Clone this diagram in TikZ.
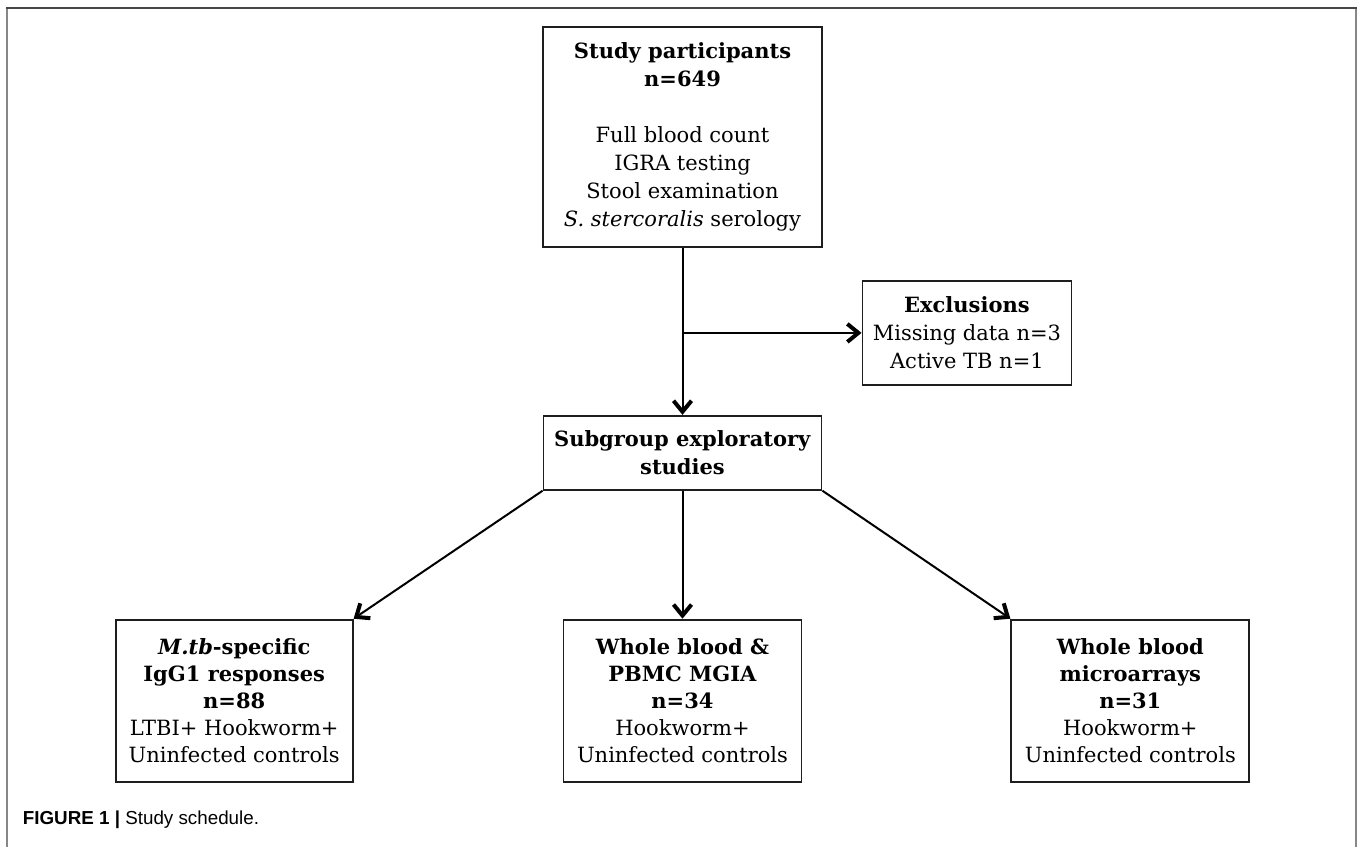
\documentclass[tikz,border=0pt]{standalone}
\usepackage{fontspec}
\setmainfont{DejaVu Serif}
\newfontfamily\capfont{Liberation Sans}
\usepackage{tikz}
\usetikzlibrary{arrows.meta,positioning}
\definecolor{boxline}{RGB}{30,30,30}
\definecolor{framedark}{RGB}{70,70,70}
\definecolor{framegray}{RGB}{135,135,135}
\tikzstyle{arrow} = [
    line width=1pt,
    -{Straight Barb[length=5.5pt,width=9pt,line width=2pt]},
    draw=black
]
\tikzstyle{box} = [
    rectangle,
    draw=boxline,
    line width=0.9pt,
    align=center,
    inner sep=3pt,
    font=\fontsize{10.5}{14}\selectfont
]

\begin{document}
\begin{tikzpicture}[
                node distance=64pt,
                every node/.style={box}
            ]
                \useasboundingbox (0,0) rectangle (678.5pt,-423.5pt);
                % outer frame, open at the bottom
                \draw[framegray, line width=1pt] (3.5pt,-423.5pt) -- (3.5pt,-4pt);
                \draw[framegray, line width=1pt] (678pt,-423.5pt) -- (678pt,-4pt);
                \draw[framedark, line width=1pt] (3pt,-4pt) -- (678.5pt,-4pt);
                % boxes
                \node (P) [minimum width=139.5pt, minimum height=110pt] at (341.25pt,-68.5pt)
                    {\textbf{Study participants}\\ \textbf{n=649}\\[14pt]
                     Full blood count\\ IGRA testing\\ Stool examination\\
                     \textit{S. stercoralis} serology};
                \coordinate[below=42.5pt of P] (J);
                \node (X) [right=89.5pt of J, minimum width=104.5pt, minimum height=52pt]
                    {\textbf{Exclusions}\\ Missing data n=3\\ Active TB n=1};
                \node (S) [below=83.5pt of P, minimum width=139pt, minimum height=37pt]
                    {\textbf{Subgroup exploratory}\\ \textbf{studies}};
                \node (M) [below=of S, minimum width=119pt, minimum height=81pt,
                           font=\fontsize{10.5}{13.5}\selectfont]
                    {\textbf{Whole blood \&}\\ \textbf{PBMC MGIA}\\ \textbf{n=34}\\
                     Hookworm+\\ Uninfected controls};
                \node (L) [left=104.5pt of M, minimum width=118.5pt, minimum height=81pt,
                           font=\fontsize{10.5}{13.5}\selectfont]
                    {\textbf{\textit{M.tb}-specific}\\ \textbf{IgG1 responses}\\ \textbf{n=88}\\
                     LTBI+ Hookworm+\\ Uninfected controls};
                \node (R) [right=104pt of M, minimum width=119pt, minimum height=81pt,
                           font=\fontsize{10.5}{13.5}\selectfont]
                    {\textbf{Whole blood}\\ \textbf{microarrays}\\ \textbf{n=31}\\
                     Hookworm+\\ Uninfected controls};
                % connectors
                \draw[arrow] (P.south) -- (S.north);
                \draw[arrow] (J) -- (X.west);
                \draw[arrow] (S.south west) -- (L.north east);
                \draw[arrow] (S.south) -- (M.north);
                \draw[arrow] (S.south east) -- (R.north west);
                % caption
                \node (C) [draw=none, anchor=west, inner sep=0pt,
                           font=\capfont\fontsize{9.4}{11}\selectfont] at (11pt,-410pt)
                    {\textbf{FIGURE 1 |} Study schedule.};
            \end{tikzpicture}
\end{document}
